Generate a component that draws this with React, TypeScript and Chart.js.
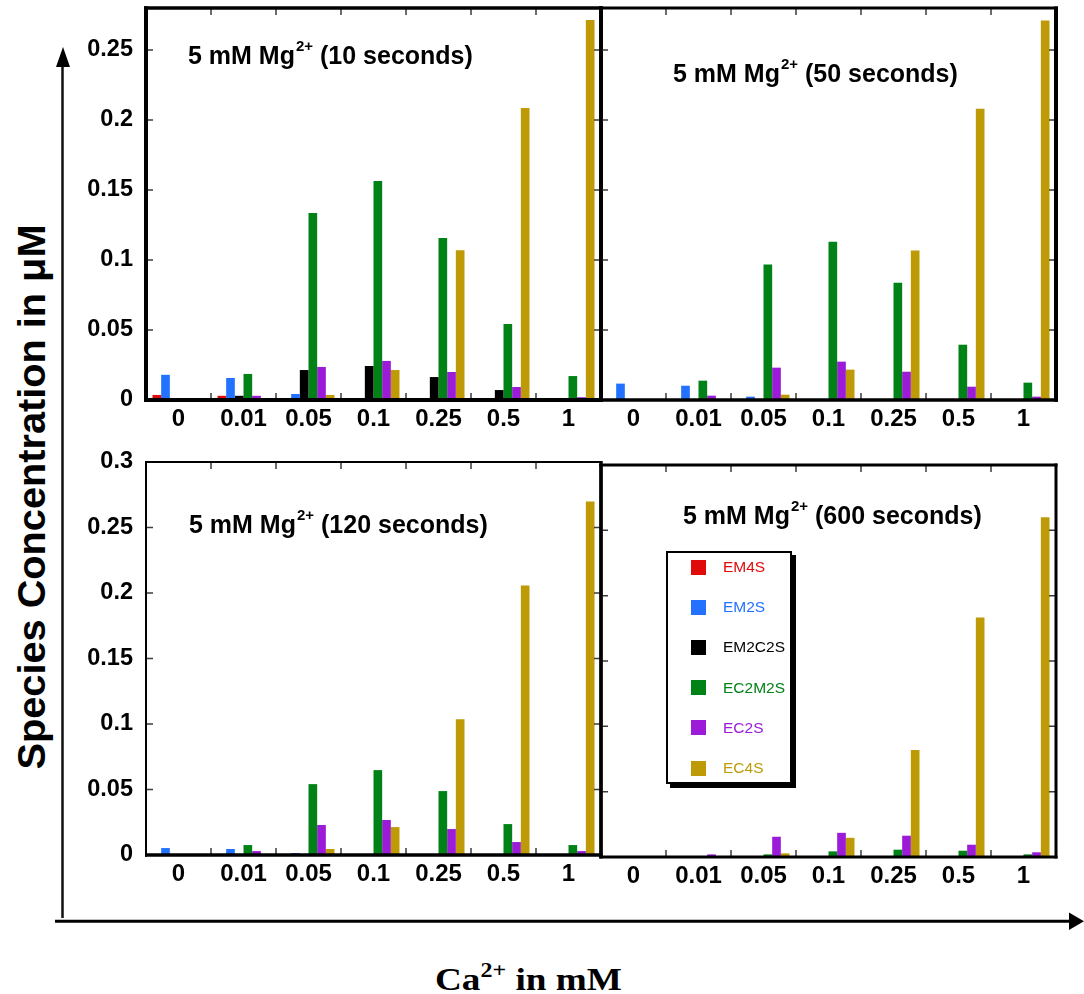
import React, { useEffect, useRef } from "react";
import { Chart, registerables } from "chart.js";

Chart.register(...registerables);

const FONT = "'Liberation Sans', Arial, Helvetica, sans-serif";

// ---------- data ----------
const categories = ["0", "0.01", "0.05", "0.1", "0.25", "0.5", "1"];
const seriesNames = ["EM4S", "EM2S", "EM2C2S", "EC2M2S", "EC2S", "EC4S"];
const seriesColors = ["#e00a0a", "#2272ff", "#000000", "#008217", "#9b1bd8", "#bd9a06"];

// 10 seconds
const em4s10 = [0.0036, 0.003, 0, 0, 0, 0, 0];
const em2s10 = [0.018, 0.0157, 0.0043, 0.001, 0, 0, 0];
const em2c2s10 = [0, 0.003, 0.0214, 0.0243, 0.0164, 0.0071, 0.0014];
const ec2m2s10 = [0, 0.0186, 0.1336, 0.1564, 0.1157, 0.0543, 0.0171];
const ec2s10 = [0, 0.003, 0.0236, 0.0279, 0.02, 0.0093, 0.002];
const ec4s10 = [0, 0, 0.0036, 0.0214, 0.107, 0.2086, 0.2714];

// 50 seconds
const em4s50 = [0, 0, 0, 0, 0, 0, 0];
const em2s50 = [0.0117, 0.0102, 0.0024, 0, 0, 0, 0];
const em2c2s50 = [0, 0, 0, 0, 0, 0, 0];
const ec2m2s50 = [0, 0.0138, 0.0967, 0.113, 0.0838, 0.0395, 0.0124];
const ec2s50 = [0, 0.0031, 0.0231, 0.0274, 0.0202, 0.0095, 0.0024];
const ec4s50 = [0, 0, 0.0038, 0.0217, 0.1067, 0.208, 0.271];

// 120 seconds
const em4s120 = [0, 0, 0, 0, 0, 0, 0];
const em2s120 = [0.0053, 0.0046, 0.0015, 0, 0, 0, 0];
const em2c2s120 = [0, 0, 0, 0, 0, 0, 0];
const ec2m2s120 = [0, 0.0076, 0.0541, 0.0648, 0.0488, 0.0236, 0.0076];
const ec2s120 = [0, 0.003, 0.0229, 0.0267, 0.0198, 0.0099, 0.003];
const ec4s120 = [0, 0, 0.0046, 0.0213, 0.1037, 0.2058, 0.2698];

// 600 seconds
const em4s600 = [0, 0, 0, 0, 0, 0, 0];
const em2s600 = [0, 0, 0, 0, 0, 0, 0];
const em2c2s600 = [0, 0, 0, 0, 0, 0, 0];
const ec2m2s600 = [0, 0, 0.002, 0.0043, 0.0056, 0.0048, 0.002];
const ec2s600 = [0, 0.002, 0.0155, 0.0185, 0.0163, 0.0094, 0.0036];
const ec4s600 = [0, 0, 0.0028, 0.0147, 0.0818, 0.1832, 0.26];

const yMaxTop = 0.28;
const yMaxBottom = 0.3;
const yStep = 0.05;

// ---------- layout (page coordinates of each plot box) ----------
const panels = [
  { id: "p10", series: [em4s10, em2s10, em2c2s10, ec2m2s10, ec2s10, ec4s10], time: "(10 seconds)",
    left: 146, right: 601, top: 8, bottom: 400, max: yMaxTop, showY: true, border: [3.5, 4, 4, 4], tx: 188, ty: 64 },
  { id: "p50", series: [em4s50, em2s50, em2c2s50, ec2m2s50, ec2s50, ec4s50], time: "(50 seconds)",
    left: 601, right: 1056, top: 8, bottom: 400, max: yMaxTop, showY: false, border: [3, 4, 3.5, 3], tx: 673, ty: 82 },
  { id: "p120", series: [em4s120, em2s120, em2c2s120, ec2m2s120, ec2s120, ec4s120], time: "(120 seconds)",
    left: 146, right: 601, top: 462, bottom: 855, max: yMaxBottom, showY: true, border: [2, 3, 3.5, 2], tx: 189, ty: 533 },
  { id: "p600", series: [em4s600, em2s600, em2c2s600, ec2m2s600, ec2s600, ec4s600], time: "(600 seconds)",
    left: 601, right: 1056, top: 465, bottom: 857, max: yMaxBottom, showY: false, border: [3, 3, 3, 3.5], tx: 683, ty: 524 },
];

const PAD_L = 80;
const PAD_T = 22;
const PAD_R = 8;
const PAD_B = 45;

const decorPlugin = {
  id: "decor",
  afterDatasetsDraw(chart: any, _args: any, opts: any) {
    const { ctx, chartArea: a, scales } = chart;
    const xs = scales.x;
    const ys = scales.y;
    ctx.save();
    // inner tick marks
    ctx.strokeStyle = "#3c3c3c";
    ctx.lineWidth = 1.5;
    const tl = 7;
    for (let k = 1; k * yStep < ys.max - 0.01; k++) {
      const y = ys.getPixelForValue(k * yStep);
      ctx.beginPath();
      ctx.moveTo(a.left, y);
      ctx.lineTo(a.left + tl, y);
      ctx.moveTo(a.right, y);
      ctx.lineTo(a.right - tl, y);
      ctx.stroke();
    }
    for (let i = 0; i < categories.length - 1; i++) {
      const x = (xs.getPixelForValue(i) + xs.getPixelForValue(i + 1)) / 2;
      ctx.beginPath();
      ctx.moveTo(x, a.top);
      ctx.lineTo(x, a.top + tl);
      ctx.moveTo(x, a.bottom);
      ctx.lineTo(x, a.bottom - tl);
      ctx.stroke();
    }
    // box
    const [bt, br, bb, bl] = opts.border;
    ctx.strokeStyle = "#000";
    ctx.lineCap = "butt";
    const seg = (w: number, x1: number, y1: number, x2: number, y2: number) => {
      ctx.lineWidth = w;
      ctx.beginPath();
      ctx.moveTo(x1, y1);
      ctx.lineTo(x2, y2);
      ctx.stroke();
    };
    seg(bt, a.left - bl / 2, a.top, a.right + br / 2, a.top);
    seg(bb, a.left - bl / 2, a.bottom, a.right + br / 2, a.bottom);
    seg(bl, a.left, a.top - bt / 2, a.left, a.bottom + bb / 2);
    seg(br, a.right, a.top - bt / 2, a.right, a.bottom + bb / 2);
    // title
    ctx.fillStyle = "#000";
    ctx.textAlign = "left";
    ctx.textBaseline = "alphabetic";
    const pre = "5 mM Mg";
    ctx.font = `bold 25px ${FONT}`;
    ctx.fillText(pre, opts.tx, opts.ty);
    let x = opts.tx + ctx.measureText(pre).width + 1;
    ctx.font = `bold 15px ${FONT}`;
    ctx.fillText("2+", x, opts.ty - 13);
    x += ctx.measureText("2+").width;
    ctx.font = `bold 25px ${FONT}`;
    ctx.fillText(" " + opts.time, x, opts.ty);
    ctx.restore();
  },
};

function fmt(v: any) {
  return String(parseFloat(Number(v).toFixed(2)));
}

function Panel({ p }: { p: (typeof panels)[number] }) {
  const ref = useRef<HTMLCanvasElement | null>(null);
  const cLeft = p.left - PAD_L;
  const cTop = p.top - PAD_T;
  const w = p.right - p.left + PAD_L + PAD_R;
  const h = p.bottom - p.top + PAD_T + PAD_B;

  useEffect(() => {
    if (!ref.current) return;
    const chart = new Chart(ref.current, {
      type: "bar",
      data: {
        labels: categories,
        datasets: seriesNames.map((name, i) => ({
          label: name,
          data: p.series[i],
          backgroundColor: seriesColors[i],
          borderWidth: 0,
          barPercentage: 1,
          categoryPercentage: 0.8,
        })),
      },
      options: {
        responsive: false,
        maintainAspectRatio: false,
        animation: false,
        devicePixelRatio: 1,
        layout: { padding: { left: 0, top: PAD_T, right: PAD_R, bottom: 0 } },
        plugins: {
          legend: { display: false },
          tooltip: { enabled: false },
          title: { display: false },
          decor: { border: p.border, tx: p.tx - cLeft, ty: p.ty - cTop, time: p.time },
        } as any,
        scales: {
          x: {
            type: "category",
            offset: true,
            grid: { display: false, drawTicks: false },
            border: { display: false },
            ticks: {
              color: "#000",
              font: { family: FONT, size: 24, weight: "bold" },
              padding: 5,
              maxRotation: 0,
              autoSkip: false,
            },
            afterFit: (s: any) => {
              s.height = PAD_B;
              s.paddingLeft = 0;
              s.paddingRight = 0;
            },
          },
          y: {
            min: 0,
            max: p.max,
            grid: { display: false, drawTicks: false },
            border: { display: false },
            ticks: {
              display: p.showY,
              stepSize: yStep,
              includeBounds: false,
              color: "#000",
              font: { family: FONT, size: 23.5, weight: "bold" },
              padding: 13,
              callback: (v: any) => fmt(v),
            },
            afterFit: (s: any) => {
              s.width = PAD_L;
              s.paddingTop = 0;
              s.paddingBottom = 0;
            },
          },
        },
      } as any,
      plugins: [decorPlugin],
    });
    return () => chart.destroy();
  }, []);

  return (
    <canvas
      ref={ref}
      width={w}
      height={h}
      style={{ position: "absolute", left: cLeft, top: cTop, width: w, height: h }}
    />
  );
}

function Legend() {
  return (
    <div
      style={{
        position: "absolute",
        left: 666,
        top: 551,
        width: 126,
        height: 233,
        boxSizing: "border-box",
        border: "2px solid #000",
        boxShadow: "4px 4px 0 #000",
        background: "#fff",
        fontFamily: FONT,
        fontSize: 15.5,
      }}
    >
      {seriesNames.map((name, i) => {
        const cy = 14 + i * 40.2;
        return (
          <React.Fragment key={name}>
            <div
              style={{
                position: "absolute",
                left: 23,
                top: cy - 7.5,
                width: 15,
                height: 15,
                background: seriesColors[i],
              }}
            />
            <div
              style={{
                position: "absolute",
                left: 55,
                top: cy - 9,
                lineHeight: "18px",
                color: seriesColors[i],
                whiteSpace: "nowrap",
              }}
            >
              {name}
            </div>
          </React.Fragment>
        );
      })}
    </div>
  );
}

export default function App() {
  return (
    <div style={{ position: "absolute", left: 0, top: 0, width: 1084, height: 994, background: "#fff", overflow: "hidden" }}>
      <svg width={1084} height={994} style={{ position: "absolute", left: 0, top: 0 }}>
        <line x1={62.5} y1={918} x2={62.5} y2={62} stroke="#111" strokeWidth={2.5} />
        <polygon points="63,47 56,67 70,67" fill="#000" />
        <line x1={55} y1={921.3} x2={1072} y2={921.3} stroke="#000" strokeWidth={3} />
        <polygon points="1084,921.3 1069,912.5 1069,930" fill="#000" />
        <text
          transform="translate(45,497) rotate(-90)"
          textAnchor="middle"
          fontFamily={FONT}
          fontWeight="bold"
          fontSize={38}
          textLength={545}
          lengthAdjust="spacingAndGlyphs"
          fill="#000"
        >
          Species Concentration in μM
        </text>
        <text
          transform="translate(435,990) scale(1.2,1)"
          fontFamily="'Liberation Serif', 'Times New Roman', serif"
          fontWeight="bold"
          fontSize={31}
          fill="#000"
        >
          Ca
          <tspan dy={-13} fontSize={20}>2+</tspan>
          <tspan dy={13}> in mM</tspan>
        </text>
      </svg>
      {panels.map((p) => (
        <Panel key={p.id} p={p} />
      ))}
      <Legend />
    </div>
  );
}
